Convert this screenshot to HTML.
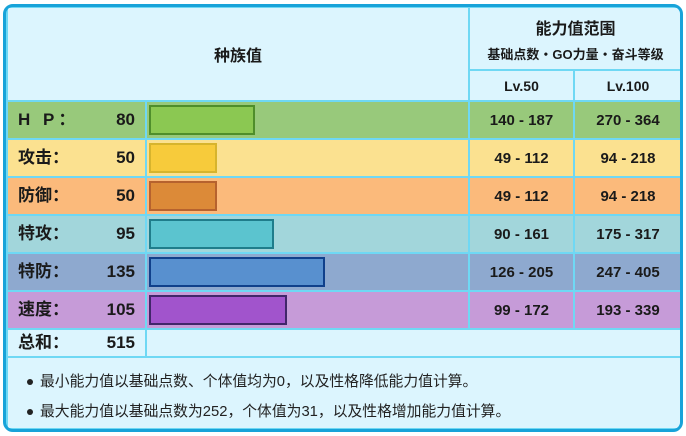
<!DOCTYPE html>
<html><head><meta charset="utf-8">
<style>
*{margin:0;padding:0;box-sizing:border-box}
body{width:686px;height:436px;background:#fff;position:relative;overflow:hidden;font-family:"Liberation Sans","Noto Sans CJK SC",sans-serif;color:#1a1a1a}
#frame{position:absolute;left:3px;top:4px;width:680px;height:428px;border:3px solid #18a3d9;border-radius:10px;background:#6fd8f4;overflow:hidden}
.c{position:absolute;display:flex;align-items:center;font-weight:bold}
.s{position:absolute;top:0;display:block;white-space:nowrap}
.bar{position:absolute;border:2px solid}
.note{position:absolute;left:32px;font-size:14.8px;color:#222;line-height:18px}
.note:before{content:"";position:absolute;left:-13px;top:6px;width:6px;height:6px;border-radius:50%;background:#222}
</style></head><body>
<div id="frame"></div>
<script>
const stats=['H P：','攻击：','防御：','特攻：','特防：','速度：'];
const values=[80,50,50,95,135,105];
const lv50=['140 - 187','49 - 112','49 - 112','90 - 161','126 - 205','99 - 172'];
const lv100=['270 - 364','94 - 218','94 - 218','175 - 317','247 - 405','193 - 339'];
const total=515;
const rowColors=['#98c97b','#fbe190','#fbba7b','#a2d6db','#8ea9cf','#c69bd8'];
const barColors=['#8bc852','#f7cb3b','#dc8a38','#5bc4cf','#5890cf','#a154cc'];
const barBorders=['#4f8e2b','#d7b42d','#b6622e','#1f7d8b','#10408b','#41266a'];
const F=document.getElementById('frame');
function cell(x,y,w,h,bg,html,name,extra){const d=document.createElement('div');d.className='c';
d.style.cssText=`left:${x}px;top:${y}px;width:${w}px;height:${h}px;background:${bg};${extra||''}`;
d.innerHTML=html;


F.appendChild(d);return d;}
const ox=-6,oy=-7;
const L=8+ox,B=147+ox,C1=470+ox,C2=575+ox,R=681+ox;
const bg='#dcf5fe';
cell(L,8+oy,C1-2-L,92,bg,'种族值','header-base-stats','justify-content:center;font-size:16px');
cell(C1,8+oy,R-C1,61,bg,'<div style="text-align:center;width:100%"><div style="font-size:16px;margin-bottom:5px">能力值范围</div><div style="font-size:13px">基础点数・GO力量・奋斗等级</div></div>','header-stat-range','justify-content:center');
cell(C1,71+oy,C2-2-C1,29,bg,'Lv.50','header-lv50','justify-content:center;font-size:14px');
cell(C2,71+oy,R-C2,29,bg,'Lv.100','header-lv100','justify-content:center;font-size:14px');
const scale=v=>1.27*v+4.5;
for(let i=0;i<6;i++){
 const y=102+38*i+oy,h=36;
 cell(L,y,B-2-L,h,rowColors[i],`<span class="s" style="left:10px;height:36px;line-height:36px;${i==0?'letter-spacing:4px':''}">${stats[i]}</span><span class="s" style="right:10px;height:36px;line-height:36px">${values[i]}</span>`,'stat-label-'+i,'font-size:17px;display:block');
 const bc=cell(B,y,C1-2-B,h,rowColors[i],'','bar-cell-'+i);
 const b=document.createElement('div');b.className='bar';
 b.style.cssText=`left:2px;top:3px;height:30px;width:${scale(values[i])}px;background:${barColors[i]};border-color:${barBorders[i]}`;
 
 
 bc.appendChild(b);
 cell(C1,y,C2-2-C1,h,rowColors[i],lv50[i],'lv50-range-'+i,'justify-content:center;font-size:15px');
 cell(C2,y,R-C2,h,rowColors[i],lv100[i],'lv100-range-'+i,'justify-content:center;font-size:15px');
}
const ty=330+oy;
cell(L,ty,B-2-L,26,bg,`<span class="s" style="left:10px;height:26px;line-height:26px">总和：</span><span class="s" style="right:10px;height:26px;line-height:26px">${total}</span>`,'total-label','font-size:17px;display:block');
cell(B,ty,R-B,26,bg,'','total-empty');
const n=cell(L,358+oy,R-L,70,bg,'','notes','font-weight:normal');
const n1=document.createElement('div');n1.className='note';n1.style.top='15px';n1.textContent='最小能力值以基础点数、个体值均为0，以及性格降低能力值计算。';


const n2=document.createElement('div');n2.className='note';n2.style.top='45px';n2.textContent='最大能力值以基础点数为252，个体值为31，以及性格增加能力值计算。';


n.appendChild(n1);n.appendChild(n2);
</script>
</body></html>
